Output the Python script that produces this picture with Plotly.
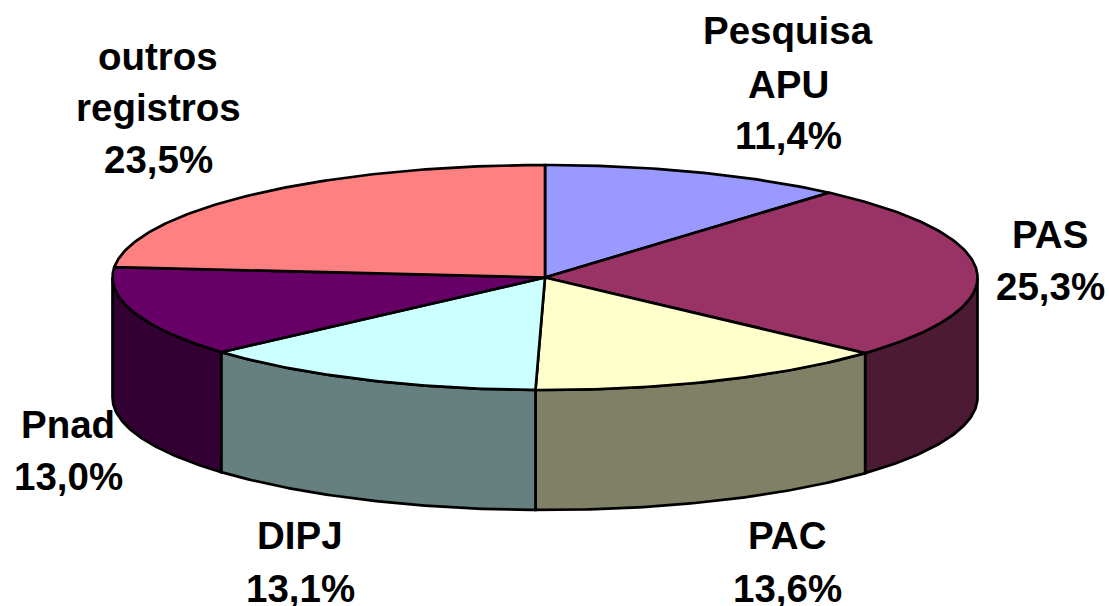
import numpy as np
import plotly.graph_objects as go

categories = ["Pesquisa APU", "PAS", "PAC", "DIPJ", "Pnad", "outros registros"]
shares = [11.4, 25.3, 13.6, 13.1, 13.0, 23.5]
value_labels = ["11,4%", "25,3%", "13,6%", "13,1%", "13,0%", "23,5%"]
name_lines = [["Pesquisa", "APU"], ["PAS"], ["PAC"], ["DIPJ"], ["Pnad"], ["outros", "registros"]]
top_colors = ["#9999FF", "#993366", "#FFFFCC", "#CCFFFF", "#660066", "#FF8080"]
side_colors = ["#4D4D80", "#4D1A33", "#808066", "#668080", "#330033", "#804040"]
label_x = [788, 1050, 787, 300, 68, 158]
label_y = [30, 234, 535, 535, 424, 56]
line_steps = [[0, 54, 105], [0, 52], [0, 53], [0, 53], [0, 52], [0, 51, 103]]

CX, CY, RX, RY, DEPTH = 545, 277.5, 432.5, 112.5, 120
total = sum(shares)
edges = np.concatenate([[0], np.cumsum(shares)]) / total * 2 * np.pi


def rim(a0, a1, dy=0.0):
    t = np.linspace(a0, a1, max(2, int(abs(a1 - a0) * 90)))
    return CX + RX * np.sin(t), CY - RY * np.cos(t) + dy


fig = go.Figure()
line = dict(color="black", width=2.7)

# Outer wall: only the front half of the disc shows
for i in range(len(shares)):
    a0, a1 = max(edges[i], np.pi / 2), min(edges[i + 1], 3 * np.pi / 2)
    if a1 <= a0:
        continue
    x_top, y_top = rim(a0, a1)
    x_bot, y_bot = rim(a0, a1, DEPTH)
    fig.add_trace(go.Scatter(
        x=np.r_[x_top, x_bot[::-1], x_top[0]], y=np.r_[y_top, y_bot[::-1], y_top[0]],
        mode="lines", fill="toself", fillcolor=side_colors[i], line=line,
        hoverinfo="skip", showlegend=False))

# Top face
for i, name in enumerate(categories):
    x, y = rim(edges[i], edges[i + 1])
    fig.add_trace(go.Scatter(
        x=np.r_[CX, x, CX], y=np.r_[CY, y, CY],
        mode="lines", fill="toself", fillcolor=top_colors[i], line=line,
        name=name, text=f"{name}: {value_labels[i]}", hoverinfo="text", showlegend=False))

# Labels, one line of text at a time
for i in range(len(categories)):
    lines = name_lines[i] + [value_labels[i]]
    for text, step in zip(lines, line_steps[i]):
        fig.add_annotation(x=label_x[i], y=label_y[i] + step, text=f"<b>{text}</b>",
                           showarrow=False, xanchor="center", yanchor="middle",
                           font=dict(family="Liberation Sans", size=38.5, color="black"))

fig.update_xaxes(range=[0, 1109], visible=False, fixedrange=True)
fig.update_yaxes(range=[606, 0], visible=False, fixedrange=True)
fig.update_layout(width=1109, height=606, margin=dict(l=0, r=0, t=0, b=0),
                  paper_bgcolor="white", plot_bgcolor="white", showlegend=False)
fig.write_html("out.html", config=dict(displayModeBar=False),
               post_script="document.body.style.margin='0';document.body.style.overflow='hidden';")
